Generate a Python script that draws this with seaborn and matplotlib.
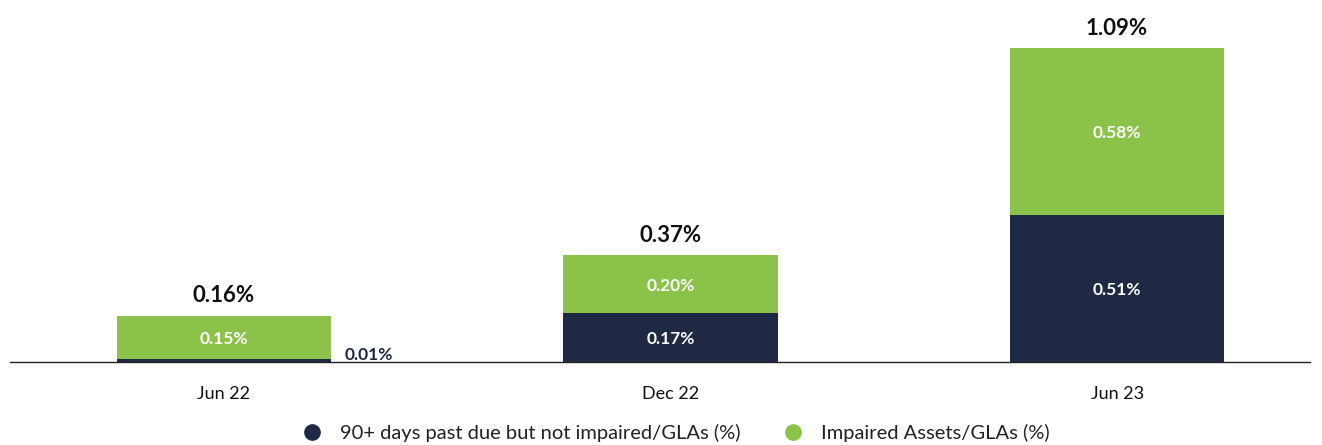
import matplotlib
matplotlib.use("Agg")
import matplotlib.pyplot as plt
from matplotlib.lines import Line2D
import seaborn as sns
import pandas as pd

periods = ["Jun 22", "Dec 22", "Jun 23"]
past_due = [0.01, 0.17, 0.51]
impaired = [0.15, 0.20, 0.58]
totals = [0.16, 0.37, 1.09]
series_names = ["90+ days past due but not impaired/GLAs (%)", "Impaired Assets/GLAs (%)"]

NAVY = "#1f2943"
GREEN = "#8bc34a"

sns.set_theme(style="white")
plt.rcParams["font.family"] = ["Lato", "DejaVu Sans"]

df = pd.DataFrame({"period": periods, "past_due": past_due, "impaired": impaired, "total": totals})

fig = plt.figure(figsize=(13.22, 4.45), dpi=100)
ax = fig.add_axes([10 / 1322, (445 - 362) / 445, 1300 / 1322, 362 / 445])

sns.barplot(data=df, x="period", y="total", color=GREEN, width=0.48, saturation=1, ax=ax, linewidth=0)
sns.barplot(data=df, x="period", y="past_due", color=NAVY, width=0.48, saturation=1, ax=ax, linewidth=0)

ax.set_xlim(-0.479, 2.432)
ax.set_ylim(0, 1.257)
ax.set_xlabel("")
ax.set_ylabel("")
ax.set_yticks([])
for s in ["top", "left", "right"]:
    ax.spines[s].set_visible(False)
ax.spines["bottom"].set_color("#222222")
ax.spines["bottom"].set_linewidth(1.0)
ax.tick_params(axis="x", length=0, pad=17, labelsize=13, colors="#111111")

for i in range(len(periods)):
    pd_v, im_v, tot = past_due[i], impaired[i], totals[i]
    ax.text(i, tot + 0.033, f"{tot:.2f}%", ha="center", va="bottom", fontsize=16, fontweight="bold", color="#111111")
    ax.text(i, pd_v + im_v / 2 - 0.005, f"{im_v:.2f}%", ha="center", va="center", fontsize=12.5, fontweight="bold", color="white")
    if pd_v >= 0.05:
        ax.text(i, pd_v / 2 - 0.005, f"{pd_v:.2f}%", ha="center", va="center", fontsize=12.5, fontweight="bold", color="white")
    else:
        ax.text(i + 0.27, -0.005, f"{pd_v:.2f}%", ha="left", va="bottom", fontsize=12.5, fontweight="bold", color=NAVY)

handles = [
    Line2D([0], [0], marker="o", linestyle="", markersize=11, markerfacecolor=NAVY, markeredgecolor=NAVY),
    Line2D([0], [0], marker="o", linestyle="", markersize=11, markerfacecolor=GREEN, markeredgecolor=GREEN),
]
fig.legend(handles, series_names, loc="lower center", bbox_to_anchor=(0.5076, 0.0), ncol=2, frameon=False,
           fontsize=14.5, handletextpad=0.4, columnspacing=1.6, labelcolor="#222222",
           borderpad=0.15, borderaxespad=0.0)

fig.savefig("out.png", dpi=100)
